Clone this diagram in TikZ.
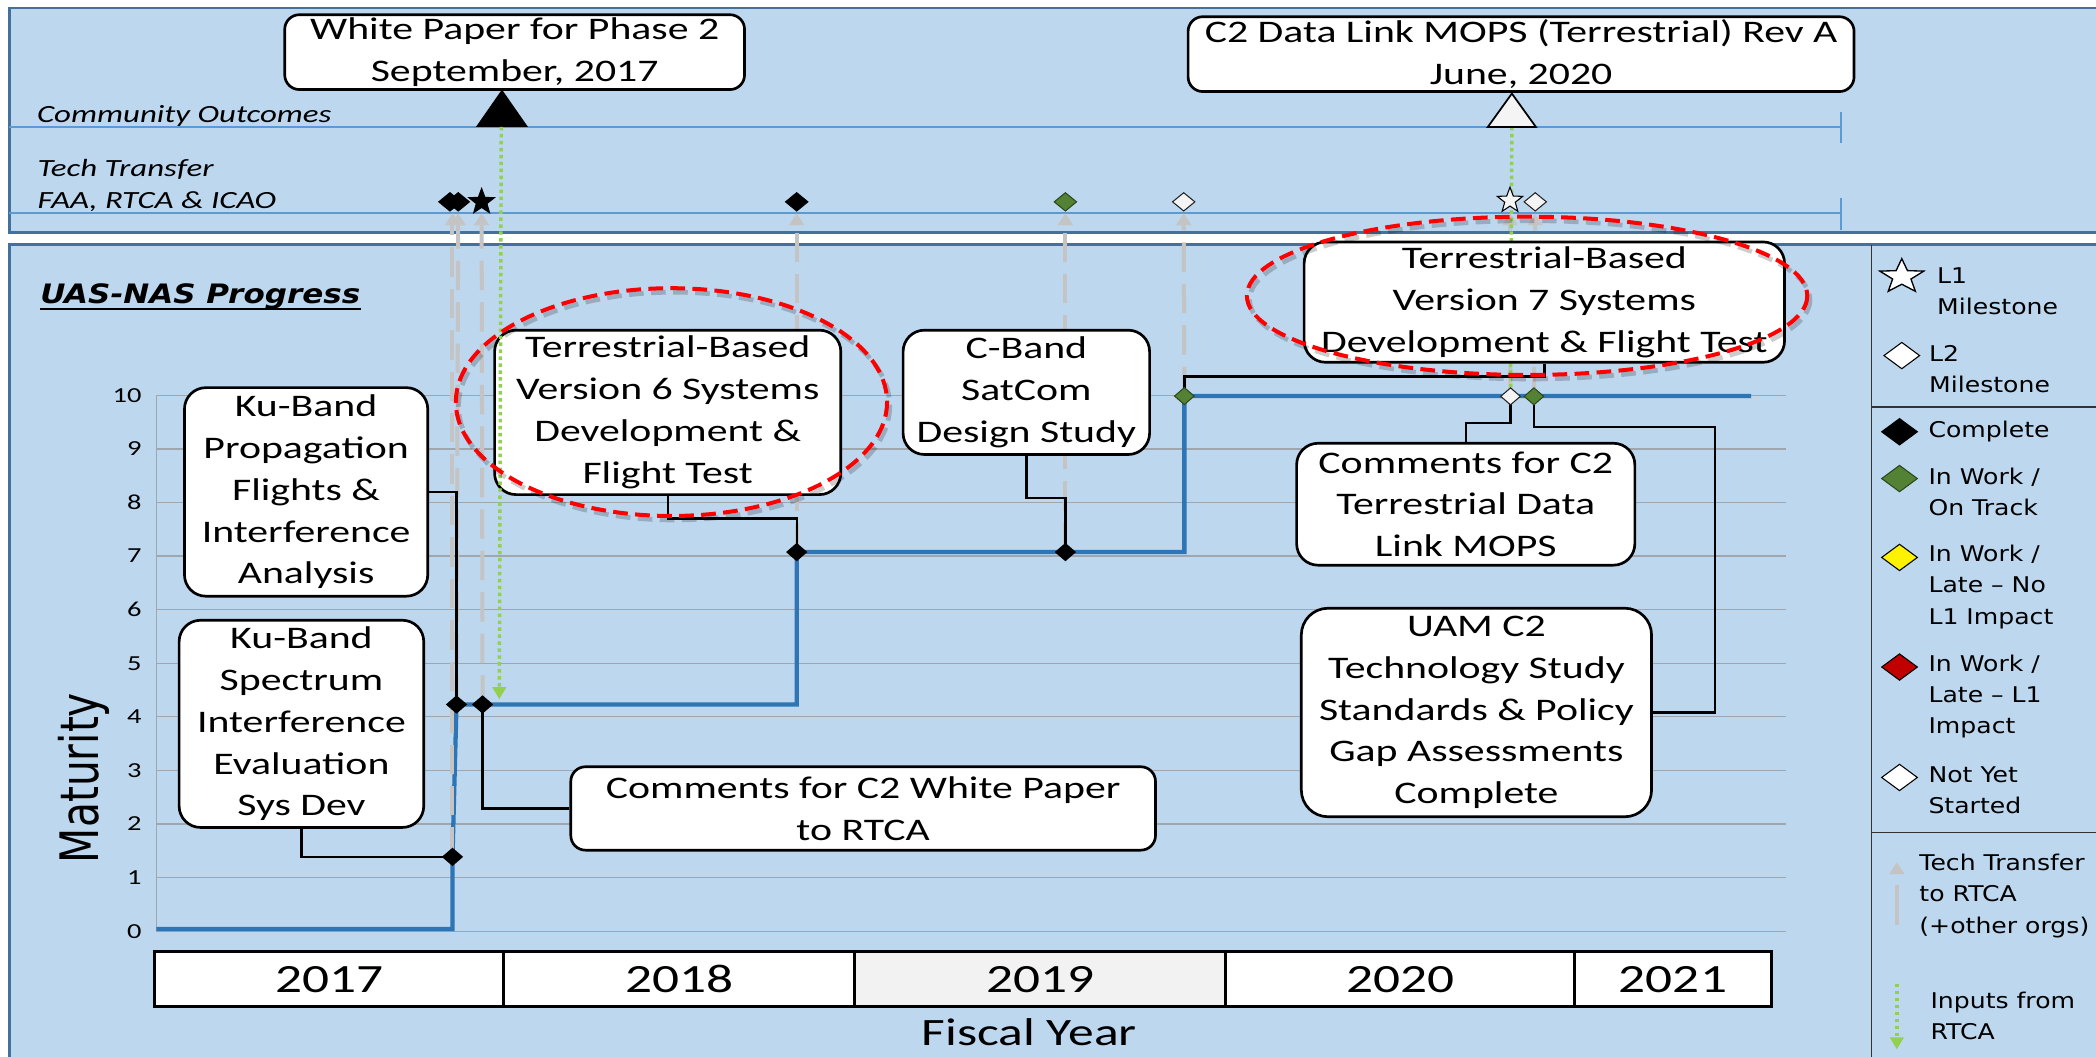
\documentclass[tikz,border=0pt]{standalone}
\usepackage{fontspec}
\usepackage{graphicx}
\usetikzlibrary{shapes.geometric,arrows.meta}
\newfontfamily\boxfamily[FakeStretch=1.33]{Carlito}
\newfontfamily\legfamily[FakeStretch=1.16]{DejaVu Sans}
\newfontfamily\axisfamily{DejaVu Sans}
\definecolor{panelfill}{HTML}{BDD7EE}
\definecolor{panelline}{HTML}{41719C}
\definecolor{rowline}{HTML}{5B9BD5}
\definecolor{gridgray}{HTML}{9FA6AD}
\definecolor{matblue}{HTML}{2E75B6}
\definecolor{ttgray}{HTML}{C4C4C4}
\definecolor{inpgreen}{HTML}{92D050}
\definecolor{ontrack}{HTML}{548235}
\definecolor{latered}{HTML}{C00000}
\definecolor{notstarted}{HTML}{F4F4F4}
\definecolor{ringred}{HTML}{FF0000}
\definecolor{cellgray}{HTML}{F2F2F2}
\pgfdeclarelayer{back}
\pgfdeclarelayer{links}
\pgfdeclarelayer{front}
\pgfsetlayers{back,links,main,front}
\begin{document}
\begin{tikzpicture}[x=1pt,y=-1pt,
  panel/.style={draw=panelline, line width=2pt, fill=panelfill},
  rowrule/.style={draw=rowline, line width=1.3pt},
  gridrule/.style={draw=gridgray, line width=1pt},
  box/.style={draw=black, line width=2pt, fill=white, rounded corners=16pt,
    inner sep=0pt, align=center,
    font=\boxfamily\fontsize{23.5}{31.3}\selectfont},
  flatbox/.style={box, rounded corners=11pt},
  conn/.style={draw=black, line width=1.8pt},
  mat/.style={draw=matblue, line width=3.2pt},
  tt/.style={draw=ttgray, line width=3pt, dash pattern=on 22pt off 9pt,
    -{Triangle[width=11pt,length=9pt]}},
  inpline/.style={draw=inpgreen, line width=2.6pt, dash pattern=on 2.6pt off 2.6pt},
  inp/.style={inpline, -{Triangle[width=10pt,length=9pt]}},
  dmd/.style={diamond, inner sep=0pt, draw=black, line width=0.8pt,
    minimum width=15pt, minimum height=13pt},
  rowdmd/.style={dmd, minimum width=17pt, minimum height=14pt},
  lgdmd/.style={dmd, minimum width=27pt, minimum height=20pt},
  done/.style={fill=black},
  ontrk/.style={fill=ontrack, draw=ontrack!55!black},
  yet/.style={fill=notstarted, draw=black!85},
  starmk/.style={star, star points=5, star point ratio=2.4, inner sep=0pt,
    minimum size=20pt, draw=black, line width=0.8pt},
  rowlabel/.style={font=\boxfamily\itshape\fontsize{18.5}{24}\selectfont,
    anchor=base west, inner sep=0pt},
  legtext/.style={font=\legfamily\fontsize{16.2}{23.5}\selectfont,
    anchor=west, inner sep=0pt, align=left},
  ticklabel/.style={font=\boxfamily\fontsize{16}{16}\selectfont,
    anchor=east, inner sep=0pt},
  yearcell/.style={draw=black, line width=2.2pt, fill=white, inner sep=0pt,
    minimum height=41pt, font=\boxfamily\fontsize{30}{30}\selectfont},
  ring/.style={draw=ringred, line width=3pt, dash pattern=on 11pt off 5.5pt},
  ringshade/.style={draw=black, opacity=0.2, line width=3.5pt,
    dash pattern=on 11pt off 5.5pt}
]
\useasboundingbox (0,0) rectangle (1568,790);

% ---------- panels, rows, grid, axis ----------
\begin{pgfonlayer}{back}
  \fill[white] (0,0) rectangle (1568,790);
  \draw[panel] (7,6) rectangle (1590,174);
  \draw[panel] (7,183) rectangle (1590,800);

  % outcome and tech-transfer rows
  \draw[rowrule] (7,95) -- (1377,95);
  \draw[rowrule] (1377,84) -- (1377,107);
  \draw[rowrule] (7,159.6) -- (1377,159.6);
  \draw[rowrule] (1377,148) -- (1377,172);
  \node[rowlabel] (lblCO) at (27.5,92) {Community Outcomes};
  \node[rowlabel] (lblTT) at (28,132) {Tech Transfer};
  \node[rowlabel] (lblFAA) at (28,156) {FAA, RTCA \& ICAO};

  % maturity grid
  \foreach \k in {0,...,10} {
    \draw[gridrule] (117,{696.6-40.09*\k}) -- (1336,{696.6-40.09*\k});
    \node[ticklabel] (tick\k) at (106,{696.6-40.09*\k}) {\k};
  }
  \draw[gridrule] (117,295.7) -- (117,696.6);
  \node[font=\axisfamily\fontsize{30.5}{30.5}\selectfont, rotate=90, anchor=base,
    inner sep=0pt] (ylab) at (74,582) {\scalebox{1}[1.3]{Maturity}};

  % title
  \node[font=\legfamily\bfseries\itshape\fontsize{20}{22}\selectfont,
    anchor=base west, inner sep=0pt] (title) at (30,227) {UAS-NAS Progress};
  \draw[line width=1.6pt] ([yshift=-4pt]title.base west) -- ([yshift=-4pt]title.base east);

  % fiscal years
  \node[yearcell, minimum width=261.5pt] (y17) at (246.25,732.5) {2017};
  \node[yearcell, minimum width=262.4pt] (y18) at (508.2,732.5) {2018};
  \node[yearcell, minimum width=277.4pt, fill=cellgray] (y19) at (778.1,732.5) {2019};
  \node[yearcell, minimum width=261.2pt] (y20) at (1047.4,732.5) {2020};
  \node[yearcell, minimum width=147pt] (y21) at (1251.5,732.5) {2021};
  \node[font=\boxfamily\fontsize{29}{29}\selectfont, inner sep=0pt] (fy) at (770,771.8) {Fiscal Year};

  % legend frame
  \draw[line width=1.3pt, draw=black!80] (1400,183) -- (1400,800);
  \draw[line width=1.3pt, draw=black!80] (1400,304.5) -- (1590,304.5);
  \draw[line width=1.3pt, draw=black!80] (1400,622.7) -- (1590,622.7);
\end{pgfonlayer}

% ---------- milestone triangles ----------
\fill[black] (356,95) -- (375.5,67) -- (395,95) -- cycle;
\draw[fill=notstarted, line width=1.3pt] (1113,95) -- (1131,70) -- (1149,95) -- cycle;
\coordinate (wpbase) at (375,95);
\coordinate (wpin) at (373.5,523);
\coordinate (mopsbase) at (1131,95);

% ---------- status markers on the maturity line ----------
\node[dmd, done] (dA) at (338.5,641) {};
\node[dmd, done] (dB) at (341.5,527) {};
\node[dmd, done] (dC) at (361,527) {};
\node[dmd, done] (dD) at (596,413) {};
\node[dmd, done] (dE) at (797,413) {};
\node[dmd, ontrk] (dF) at (886,296.3) {};
\node[dmd, yet] (dG) at (1130,296.5) {};
\node[dmd, ontrk] (dH) at (1147.5,296.5) {};

% ---------- markers on the tech-transfer row ----------
\coordinate (rowbase) at (0,159.5);
\node[rowdmd, done] (tA) at (336.6,151) {};
\node[rowdmd, done] (tB) at (342.8,151) {};
\node[starmk, fill=black] (tS) at (360.3,151) {};
\node[rowdmd, done] (tD) at (596,151) {};
\node[rowdmd, ontrk] (tE) at (797,151) {};
\node[rowdmd, yet] (tF) at (885.5,151) {};
\node[starmk, fill=notstarted] (tG) at (1129.6,150) {};
\node[rowdmd, yet] (tH) at (1148.5,151) {};

% ---------- activity boxes ----------
\node[box, minimum width=182pt, minimum height=156pt] (kuprop) at (229,368)
  {Ku-Band\\Propagation\\Flights \&\\Interference\\Analysis};
\node[box, minimum width=183pt, minimum height=155pt] (kuspec) at (225.5,541.5)
  {Ku-Band\\Spectrum\\Interference\\Evaluation\\Sys Dev};
\node[box, minimum width=259pt, minimum height=123pt] (v6) at (499.5,308.5)
  {Terrestrial-Based\\Version 6 Systems\\Development \&\\Flight Test};
\node[box, minimum width=184.4pt, minimum height=93pt] (cband) at (767.8,293.5)
  {C-Band\\SatCom\\Design Study};
\node[box, minimum width=359.4pt, minimum height=90pt] (v7) at (1155.3,226)
  {Terrestrial-Based\\Version 7 Systems\\Development \& Flight Test};
\node[box, minimum width=253pt, minimum height=91.2pt] (ctdl) at (1096.5,377.2)
  {Comments for C2\\Terrestrial Data\\Link MOPS};
\node[box, minimum width=262pt, minimum height=156pt, rounded corners=20pt] (uam) at (1104.5,533)
  {UAM C2\\Technology Study\\Standards \& Policy\\Gap Assessments\\Complete};
\node[flatbox, minimum width=437.4pt, minimum height=62.4pt] (cwp) at (645.7,604.8)
  {Comments for C2 White Paper\\to RTCA};
\node[flatbox, minimum width=344pt, minimum height=56pt] (wp) at (385,39)
  {White Paper for Phase 2\\September, 2017};
\node[flatbox, minimum width=498.2pt, minimum height=56pt] (mops) at (1137.9,40.5)
  {C2 Data Link MOPS (Terrestrial) Rev A\\June, 2020};
\coordinate (uamturn) at (1283,319.6);

% ---------- maturity line, transfers, inputs and box links ----------
\begin{pgfonlayer}{links}
  \draw[mat] (117,695) -| (dA.center) -- (dB.center) -| (dD.center) -| (dF.center) -- (1310,296.3);
  \draw[tt] (dA.center) -- (dA.center |- rowbase);
  \draw[tt] (dB.center) -- (tB.center |- rowbase);
  \draw[tt] (dC.center) -- (tS.center |- rowbase);
  \draw[tt] (dD.center) -- (tD.center |- rowbase);
  \draw[tt] (dE.center) -- (tE.center |- rowbase);
  \draw[tt] (dF.center) -- (tF.center |- rowbase);
  \draw[tt] (dG.center) -- (tG.center |- rowbase);
  \draw[tt] (dH.center) -- (tH.center |- rowbase);
  \draw[inpline] (mopsbase) -- (dG.north);
  \draw[conn] (kuprop.east) -| (dB.center);
  \draw[conn] (kuspec.south) |- (dA.center);
  \draw[conn] (v6.south) -- ++(0,17) -| (dD.center);
  \draw[conn] (cband.south) -- ++(0,31.6) -| (dE.center);
  \draw[conn] (v7.south) -- ++(0,9.5) -| (dF.center);
  \draw[conn] (dG.center) -- ++(0,20) -| (ctdl.north);
  \draw[conn] (dH.center) |- (uamturn) |- (uam.east);
  \draw[conn] (cwp.west) -| (dC.center);
\end{pgfonlayer}

% ---------- legend ----------
\begin{scope}[shift={(1422.7,207)}, xscale=1.28]
  \node[starmk, fill=white, minimum size=27pt, line width=1pt, transform shape] (lgL1) at (0,0) {};
\end{scope}
\node[legtext] (lgL1t) at (1449,218) {L1\\Milestone};
\node[lgdmd, fill=white] (lgL2) at (1422.7,266) {};
\node[legtext] (lgL2t) at (1443,276) {L2\\Milestone};
\node[lgdmd, done] (lgDone) at (1421,323) {};
\node[legtext] (lgDonet) at (1442.5,323) {Complete};
\node[lgdmd, ontrk] (lgTrack) at (1421,358) {};
\node[legtext] (lgTrackt) at (1442.5,368) {In Work /\\On Track};
\node[lgdmd, fill=yellow] (lgLateNo) at (1421,417) {};
\node[legtext] (lgLateNot) at (1442.5,439) {In Work /\\Late – No\\L1 Impact};
\node[lgdmd, fill=latered] (lgLate) at (1421,499) {};
\node[legtext] (lgLatet) at (1442.5,521) {In Work /\\Late – L1\\Impact};
\node[lgdmd, fill=white] (lgYet) at (1421,581.6) {};
\node[legtext] (lgYett) at (1442.5,591) {Not Yet\\Started};
\coordinate (lgTTfrom) at (1419,692);
\coordinate (lgTTto) at (1419,645);
\draw[tt, dash pattern=on 30pt off 8pt] (lgTTfrom) -- (lgTTto);
\node[legtext] (lgTTt) at (1435.7,670) {Tech Transfer\\to RTCA\\(+other orgs)};
\coordinate (lgINfrom) at (1419,736);
\coordinate (lgINto) at (1419,785);
\draw[inp] (lgINfrom) -- (lgINto);
\node[legtext] (lgINt) at (1444,760) {Inputs from\\RTCA};

% ---------- highlight rings and RTCA input ----------
\begin{pgfonlayer}{front}
  \draw[inp] (wpbase) -- (wpin);
  \draw[ringshade] (504.3,303.8) ellipse [x radius=161.3, y radius=85.2];
  \draw[ring] (502.3,300.8) ellipse [x radius=161.3, y radius=85.2];
  \draw[ringshade] (1144.4,224.3) ellipse [x radius=209.6, y radius=59.2];
  \draw[ring] (1142.4,221.3) ellipse [x radius=209.6, y radius=59.2];
\end{pgfonlayer}
\end{tikzpicture}
\end{document}
